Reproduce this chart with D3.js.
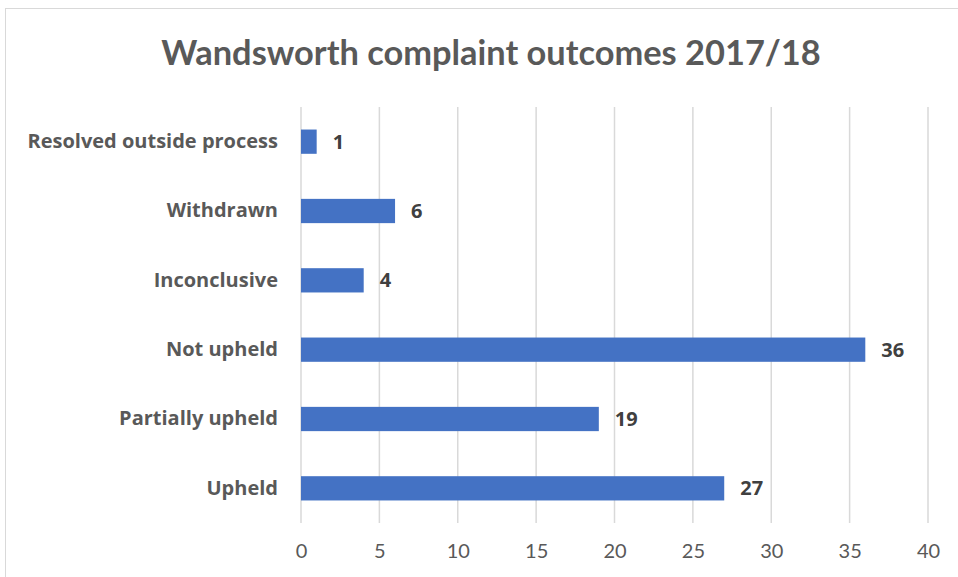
<!DOCTYPE html>
<html>
<head>
<meta charset="utf-8">
<script src="https://cdn.jsdelivr.net/npm/d3@7"></script>
<style>
  body { margin: 0; background: #fff; }
  svg text { font-family: Lato, "Open Sans", sans-serif; }
  svg text.bold-label { font-family: "Open Sans", Lato, sans-serif; }
</style>
</head>
<body>
<svg id="chart" width="958" height="577"></svg>
<script>
// outcomes, top to bottom as shown
var categories = ["Resolved outside process", "Withdrawn", "Inconclusive", "Not upheld", "Partially upheld", "Upheld"];
var counts = [1, 6, 4, 36, 19, 27];
var xTicks = [0, 5, 10, 15, 20, 25, 30, 35, 40];

var svg = d3.select('#chart');

// outer frame
svg.append('rect')
	.attr('x', 5.5).attr('y', 8.5)
	.attr('width', 980).attr('height', 600)
	.attr('fill', 'none').attr('stroke', '#d9d9d9').attr('stroke-width', 1);

var x = d3.scaleLinear().domain([0, 40]).range([301, 928]);
var y = d3.scaleBand().domain(categories).range([107, 523]).paddingInner(0.65).paddingOuter(0.325);

svg.append('text')
	.attr('x', 491).attr('y', 65)
	.attr('text-anchor', 'middle')
	.attr('font-size', 34.4).attr('font-weight', 'bold')
	.attr('fill', '#595959')
	.text('Wandsworth complaint outcomes 2017/18');

// gridlines
svg.append('g').selectAll('line')
	.data(xTicks)
	.enter().append('line')
		.attr('x1', function(d){ return x(d); })
		.attr('x2', function(d){ return x(d); })
		.attr('y1', 107).attr('y2', 523)
		.attr('stroke', '#d9d9d9').attr('stroke-width', 1.5);

// x axis labels
var xAxis = d3.axisBottom(x).tickValues(xTicks).tickSize(0).tickPadding(0);
var gx = svg.append('g').attr('transform', 'translate(0,545)').call(xAxis);
gx.select('.domain').remove();
gx.selectAll('text')
	.attr('font-size', 20).attr('fill', '#595959')
	.attr('dy', '0.32em').attr('y', 7);

// bars
svg.append('g').selectAll('rect')
	.data(categories)
	.enter().append('rect')
		.attr('x', x(0))
		.attr('y', function(d){ return y(d); })
		.attr('width', function(d, i){ return x(counts[i]) - x(0); })
		.attr('height', y.bandwidth())
		.attr('fill', '#4472c4');

// category labels
var yAxis = d3.axisLeft(y).tickSize(0).tickPadding(23);
var gy = svg.append('g').attr('transform', 'translate(301,0)').call(yAxis);
gy.select('.domain').remove();
gy.selectAll('text')
	.attr('class', 'bold-label')
	.attr('font-size', 20).attr('font-weight', 'bold').attr('fill', '#595959');

// value labels
svg.append('g').selectAll('text')
	.data(categories)
	.enter().append('text')
		.attr('class', 'bold-label')
		.attr('x', function(d, i){ return x(counts[i]) + 16; })
		.attr('y', function(d){ return y(d) + y.bandwidth() / 2; })
		.attr('dy', '0.35em')
		.attr('font-size', 20).attr('font-weight', 'bold')
		.attr('fill', '#404040')
		.text(function(d, i){ return counts[i]; });
</script>
</body>
</html>
